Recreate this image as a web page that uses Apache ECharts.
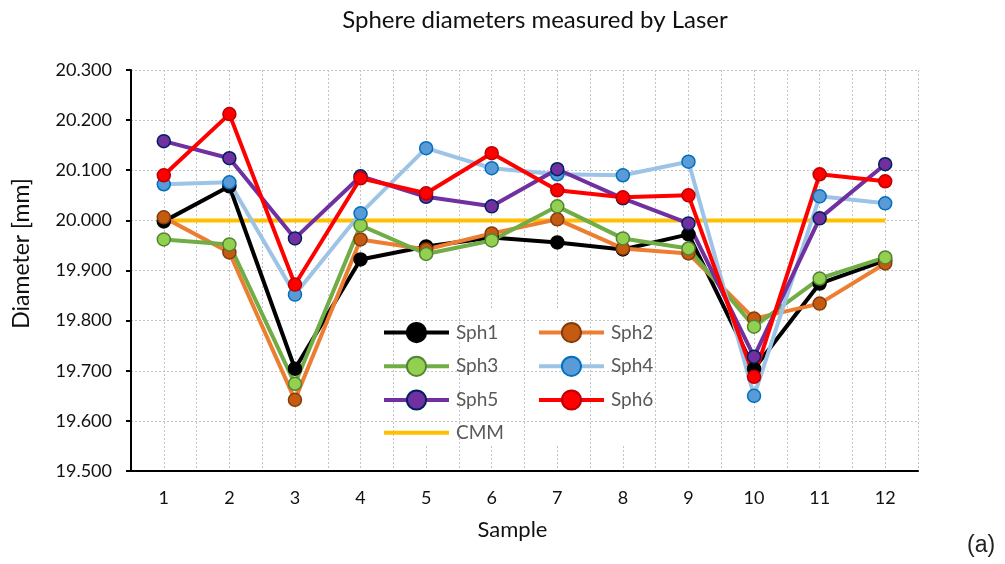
<!DOCTYPE html>
<html>
<head>
<meta charset="utf-8">
<script src="https://cdn.jsdelivr.net/npm/echarts@6/dist/echarts.min.js"></script>
<style>
  html, body { margin: 0; padding: 0; background: #fff; }
  #chart { width: 1005px; height: 564px; }
</style>
</head>
<body>
<div id="chart"></div>
<script>
// Sample numbers along the x axis
const samples = ['1', '2', '3', '4', '5', '6', '7', '8', '9', '10', '11', '12'];

// Measured diameters per sphere [mm]
const sph1 = [19.998, 20.068, 19.704, 19.922, 19.948, 19.966, 19.956, 19.942, 19.972, 19.704, 19.874, 19.920];
const sph2 = [20.006, 19.936, 19.642, 19.962, 19.942, 19.974, 20.002, 19.944, 19.934, 19.804, 19.834, 19.914];
const sph3 = [19.962, 19.952, 19.674, 19.990, 19.933, 19.960, 20.028, 19.964, 19.944, 19.788, 19.884, 19.926];
const sph4 = [20.072, 20.076, 19.852, 20.014, 20.144, 20.104, 20.092, 20.090, 20.117, 19.650, 20.048, 20.034];
const sph5 = [20.158, 20.124, 19.964, 20.088, 20.047, 20.028, 20.102, 20.044, 19.994, 19.728, 20.004, 20.112];
const sph6 = [20.090, 20.212, 19.872, 20.084, 20.054, 20.134, 20.060, 20.046, 20.050, 19.688, 20.092, 20.078];
// Reference value from the coordinate measuring machine
const cmm  = [20.000, 20.000, 20.000, 20.000, 20.000, 20.000, 20.000, 20.000, 20.000, 20.000, 20.000, 20.000];

const FONT = 'Lato, "Open Sans", sans-serif';
const dotted = { color: '#c3c3c3', width: 1, type: [2, 2] };

function sphere(name, data, line, fill, border) {
  return {
    name, type: 'line', data,
    xAxisIndex: 0, yAxisIndex: 0,
    symbol: 'circle', symbolSize: 13,
    lineStyle: { color: line, width: 4 },
    itemStyle: { color: fill, borderColor: border, borderWidth: 1.5 },
    emphasis: { disabled: true },
    animation: false,
    z: 3
  };
}

const chart = echarts.init(document.getElementById('chart'), null, { renderer: 'canvas' });

const legendCommon = {
  orient: 'vertical',
  itemWidth: 65,
  itemHeight: 24,
  itemGap: 12.5,
  lineStyle: { width: 4 },
  textStyle: { fontFamily: FONT, fontSize: 19, color: '#595959', padding: [0, 0, 0, 2] },
  selectedMode: false,
  z: 6
};

chart.setOption({
  backgroundColor: '#fff',
  animation: false,
  title: {
    text: 'Sphere diameters measured by Laser',
    left: 530, top: 3, textAlign: 'center',
    textStyle: { fontFamily: FONT, fontSize: 24, fontWeight: 'normal', color: '#111' }
  },
  grid: { left: 131, right: 87, top: 70, bottom: 93, containLabel: false },
  legend: [
    Object.assign({}, legendCommon, {
      left: 377, top: 317,
      data: ['Sph1', 'Sph3', 'Sph5', {
        name: 'CMM',
        itemStyle: { color: 'rgba(0,0,0,0)', borderColor: 'rgba(0,0,0,0)', borderWidth: 0 }
      }]
    }),
    Object.assign({}, legendCommon, { left: 532, top: 317, data: ['Sph2', 'Sph4', 'Sph6'] })
  ],
  graphic: [
    {
      type: 'rect', z: 1,
      shape: { x: 373, y: 309, width: 290, height: 135 },
      style: { fill: '#fff' }
    },
    {
      type: 'text', left: 967, top: 534, z: 5,
      style: { text: '(a)', font: '23px "Liberation Sans", Arial, sans-serif', fill: '#222' }
    }
  ],
  xAxis: [
    {
      type: 'category', data: samples, boundaryGap: true,
      name: 'Sample', nameLocation: 'middle', nameGap: 48,
      nameTextStyle: { fontFamily: FONT, fontSize: 22, color: '#111', padding: [0, 24, 0, 0] },
      axisLine: { show: true, lineStyle: { color: '#000', width: 2 } },
      axisTick: { show: false },
      axisLabel: { fontFamily: FONT, fontSize: 18, color: '#111', margin: 18 },
      splitLine: { show: true, interval: 0, lineStyle: dotted },
      z: 2
    },
    {
      // half-category grid: dotted lines through every sample position
      type: 'value', min: 0, max: 24, interval: 1,
      axisLine: { show: false }, axisTick: { show: false }, axisLabel: { show: false },
      splitLine: { show: true, lineStyle: dotted },
      position: 'top', z: 0
    }
  ],
  yAxis: {
    type: 'value', min: 19.5, max: 20.3, interval: 0.1,
    name: 'Diameter [mm]', nameLocation: 'middle', nameGap: 98,
    nameTextStyle: { fontFamily: FONT, fontSize: 23, color: '#111', padding: [0, 0, 0, 34] },
    axisLine: { show: true, lineStyle: { color: '#000', width: 2 } },
    axisTick: { show: true, length: 5, lineStyle: { color: '#000', width: 2 } },
    axisLabel: {
      fontFamily: FONT, fontSize: 18, color: '#111', margin: 19,
      formatter: v => v.toFixed(3)
    },
    splitLine: { show: true, lineStyle: dotted },
    z: 2
  },
  series: [
    {
      name: 'CMM', type: 'line', data: cmm,
      symbol: 'none', lineStyle: { color: '#FFC000', width: 4 },
      itemStyle: { color: '#FFC000' },
      emphasis: { disabled: true }, z: 2
    },
    sphere('Sph1', sph1, '#000000', '#000000', '#000000'),
    sphere('Sph2', sph2, '#ED7D31', '#C55A11', '#843C0C'),
    sphere('Sph3', sph3, '#70AD47', '#92D050', '#548235'),
    sphere('Sph4', sph4, '#9DC3E6', '#5B9BD5', '#0070C0'),
    sphere('Sph5', sph5, '#7030A0', '#7030A0', '#002060'),
    sphere('Sph6', sph6, '#FF0000', '#FF0000', '#C00000')
  ]
});
</script>
</body>
</html>
